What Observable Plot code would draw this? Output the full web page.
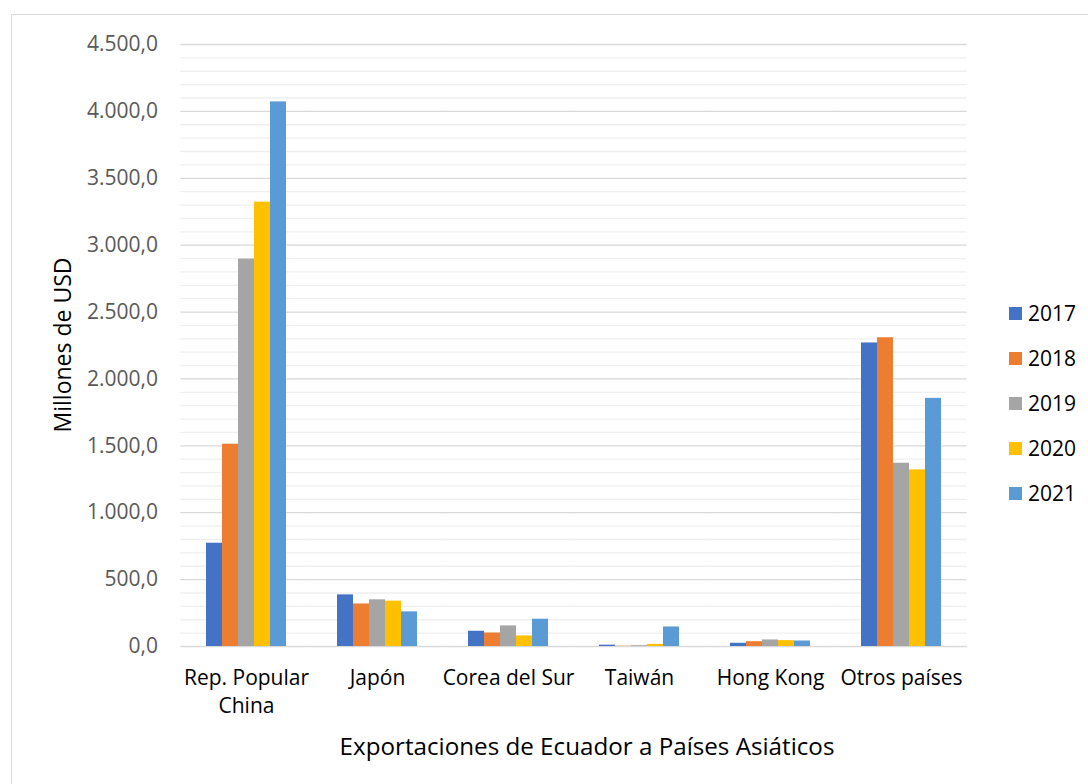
<!DOCTYPE html>
<html>
<head>
<meta charset="utf-8">
<script src="https://cdn.jsdelivr.net/npm/d3@7"></script>
<script src="https://cdn.jsdelivr.net/npm/@observablehq/plot@0.6"></script>
<style>
  html, body { margin: 0; padding: 0; background: #fff; overflow: hidden; }
  body { width: 1088px; height: 784px; position: relative; font-family: "Open Sans", sans-serif; }
  #frame { position: absolute; left: 11px; top: 14px; width: 1200px; height: 900px; border-left: 1.5px solid #d9d9d9; border-top: 1.5px solid #d9d9d9; }
  #chart { position: absolute; left: 0; top: 0; }
  #legend { position: absolute; left: 1009px; top: 291px; }
  .item { display: flex; align-items: center; height: 45px; }
  .sw { width: 13px; height: 13px; margin-right: 6px; }
  .lab { font-size: 21px; color: #000; line-height: 1; }
  #ytitle { position: absolute; left: 62px; top: 345px; transform: translate(-50%, -50%) rotate(-90deg); font-size: 23px; color: #000; white-space: nowrap; line-height: 1; }
  #xtitle { position: absolute; left: 587px; top: 746px; transform: translate(-50%, -50%); font-size: 24.2px; color: #000; white-space: nowrap; line-height: 1; }
</style>
</head>
<body>
<div id="frame"></div>
<div id="chart"></div>
<div id="ytitle"></div>
<div id="xtitle"></div>
<div id="legend"></div>
<script>
// ---- data ----
const countries = ["Rep. Popular China", "Japón", "Corea del Sur", "Taiwán", "Hong Kong", "Otros países"];
const countryLabels = ["Rep. Popular\nChina", "Japón", "Corea del Sur", "Taiwán", "Hong Kong", "Otros países"];
const years = ["2017", "2018", "2019", "2020", "2021"];
const colors = ["#4472C4", "#ED7D31", "#A5A5A5", "#FFC000", "#5B9BD5"];
const v2017 = [772, 386, 114, 10, 24, 2269];
const v2018 = [1512, 318, 101, 2, 36, 2308];
const v2019 = [2896, 349, 154, 6, 49, 1370];
const v2020 = [3322, 339, 79, 16, 44, 1320];
const v2021 = [4071, 259, 204, 146, 41, 1855];
const majorTicks = [0, 500, 1000, 1500, 2000, 2500, 3000, 3500, 4000, 4500];
const minorTicks = d3.range(100, 4500, 100).filter(d => d % 500 !== 0);
const yTitle = "Millones de USD";
const xTitle = "Exportaciones de Ecuador a Países Asiáticos";

const series = [v2017, v2018, v2019, v2020, v2021];
const data = [];
countries.forEach((c, i) => years.forEach((y, j) => data.push({country: c, year: y, value: series[j][i]})));

const locale = d3.formatLocale({decimal: ",", thousands: ".", grouping: [3], currency: ["", ""]});
const fmt = locale.format(",.1f");
const labelOf = new Map(countries.map((c, i) => [c, countryLabels[i]]));

const gap = 23.6;
const chart = Plot.plot({
  width: 1088,
  height: 784,
  marginLeft: 180,
  marginRight: 121,
  marginTop: 44,
  marginBottom: 138,
  style: {fontFamily: "Open Sans", fontSize: "21px", background: "transparent"},
  fx: {domain: countries, paddingInner: 0.36, paddingOuter: 0.18},
  x: {domain: years, padding: 0, axis: null},
  y: {domain: [0, 4500]},
  color: {domain: years, range: colors},
  marks: [
    Plot.ruleY(minorTicks, {stroke: "#efefef", strokeWidth: 1.3, insetLeft: -gap, insetRight: -gap}),
    Plot.ruleY(majorTicks, {stroke: "#d9d9d9", strokeWidth: 1.3, insetLeft: -gap, insetRight: -gap}),
    Plot.barY(data, {fx: "country", x: "year", y: "value", fill: "year"}),
    Plot.axisY({ticks: majorTicks, tickFormat: fmt, tickSize: 0, tickPadding: 23 + gap, fontSize: 21, fill: "#595959", label: null}),
    Plot.axisFx({anchor: "bottom", tickSize: 0, tickPadding: 18, fontSize: 21, fill: "#000", lineHeight: 1.35,
      tickFormat: d => labelOf.get(d), label: null})
  ]
});
document.getElementById("chart").appendChild(chart);
document.getElementById("ytitle").textContent = yTitle;
document.getElementById("xtitle").textContent = xTitle;

const legend = document.getElementById("legend");
years.forEach((y, i) => {
  const it = document.createElement("div");
  it.className = "item";
  const sw = document.createElement("div");
  sw.className = "sw";
  sw.style.background = colors[i];
  const lab = document.createElement("span");
  lab.className = "lab";
  lab.textContent = y;
  it.appendChild(sw); it.appendChild(lab);
  legend.appendChild(it);
});
</script>
</body>
</html>
